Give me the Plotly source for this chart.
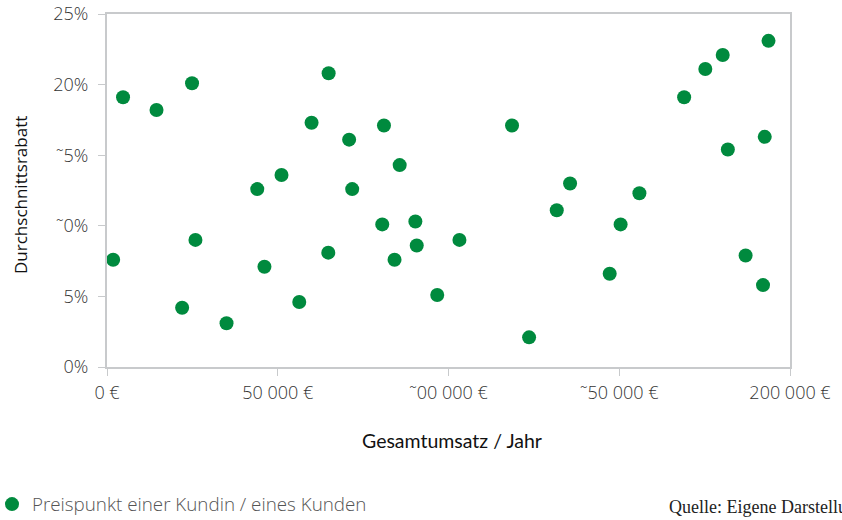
import plotly.graph_objects as go

# Data (Gesamtumsatz in €, Durchschnittsrabatt in %)
umsatz = [1800, 4700, 14500, 24900, 25900, 22000, 35000, 44000, 46100, 51100,
          56300, 59900, 64900, 64800, 70900, 71800, 80600, 81100, 84200, 85700,
          90300, 90700, 96700, 103200, 118600, 123600, 131700, 135600, 147200,
          150400, 155900, 169000, 175200, 180300, 181800, 187000, 192100,
          192600, 193700]
rabatt = [7.6, 19.1, 18.2, 20.1, 9.0, 4.2, 3.1, 12.6, 7.1, 13.6,
          4.6, 17.3, 20.8, 8.1, 16.1, 12.6, 10.1, 17.1, 7.6, 14.3,
          10.3, 8.6, 5.1, 9.0, 17.1, 2.1, 11.1, 13.0, 6.6,
          10.1, 12.3, 19.1, 21.1, 22.1, 15.4, 7.9, 5.8,
          16.3, 23.1]

y_ticks = [0, 5, 10, 15, 20, 25]
y_labels = ["0%", "5%", "˜0%", "˜5%", "20%", "25%"]
x_ticks = [0, 50000, 100000, 150000, 200000]
x_labels = ["0 €", "50 000 €", "˜00 000 €", "˜50 000 €", "200 000 €"]

series_name = "Preispunkt einer Kundin / eines Kunden"
green = "#008a3e"
axis_col = "#c8cacc"
tick_font = dict(family="Open Sans", size=18, color="#333333", weight=300)

# plot area in pixels (for paper-coordinate conversion of the text annotations)
L, R, T, B = 107, 790, 14, 367
def px_x(p):
    return (p - L) / (R - L)
def px_y(p):
    return (B - p) / (B - T)

fig = go.Figure()
fig.add_trace(go.Scatter(
    x=umsatz, y=rabatt, mode="markers", name=series_name,
    marker=dict(size=14, color=green, line=dict(width=0)),
))

fig.update_layout(
    width=842, height=520,
    margin=dict(l=L, r=842 - R, t=T, b=520 - B, autoexpand=False),
    paper_bgcolor="white", plot_bgcolor="white",
    showlegend=True,
    legend=dict(orientation="h", xref="paper", yref="container",
                x=px_x(-8), y=0.030, xanchor="left", yanchor="middle",
                font=dict(family="Open Sans", size=18.8, color="#555555", weight=300),
                itemsizing="trace", traceorder="normal"),
    xaxis=dict(range=[0, 200000], tickvals=x_ticks, ticktext=x_labels,
               showgrid=False, zeroline=False, showline=True, linecolor=axis_col,
               linewidth=2, mirror=True, ticks="outside", ticklen=7,
               tickcolor=axis_col, tickwidth=1, tickfont=tick_font,
               automargin=False, ticklabelstandoff=1),
    yaxis=dict(range=[0, 25], tickvals=y_ticks, ticktext=y_labels,
               showgrid=False, zeroline=False, showline=True, linecolor=axis_col,
               linewidth=2, mirror=True, ticks="outside", ticklen=7,
               tickcolor=axis_col, tickwidth=1, tickfont=tick_font,
               automargin=False, ticklabelstandoff=6),
    annotations=[
        dict(text="Gesamtumsatz / Jahr", xref="paper", yref="paper",
             x=px_x(452), y=px_y(440), xanchor="center", yanchor="middle",
             showarrow=False, font=dict(family="Lato", size=19.5, color="#111111")),
        dict(text="Durchschnittsrabatt", xref="paper", yref="paper",
             x=px_x(20), y=px_y(195), xanchor="center", yanchor="middle", textangle=-90,
             showarrow=False, font=dict(family="Open Sans", size=17, color="#111111")),
        dict(text="Quelle: Eigene Darstellung", xref="paper", yref="paper",
             x=px_x(667), y=px_y(507), xanchor="left", yanchor="middle",
             showarrow=False, font=dict(family="Liberation Serif", size=18, color="#222222")),
    ],
)

fig.write_html("out.html", config={"displayModeBar": False},
               post_script="document.body.style.margin='0';document.body.style.padding='0';")
